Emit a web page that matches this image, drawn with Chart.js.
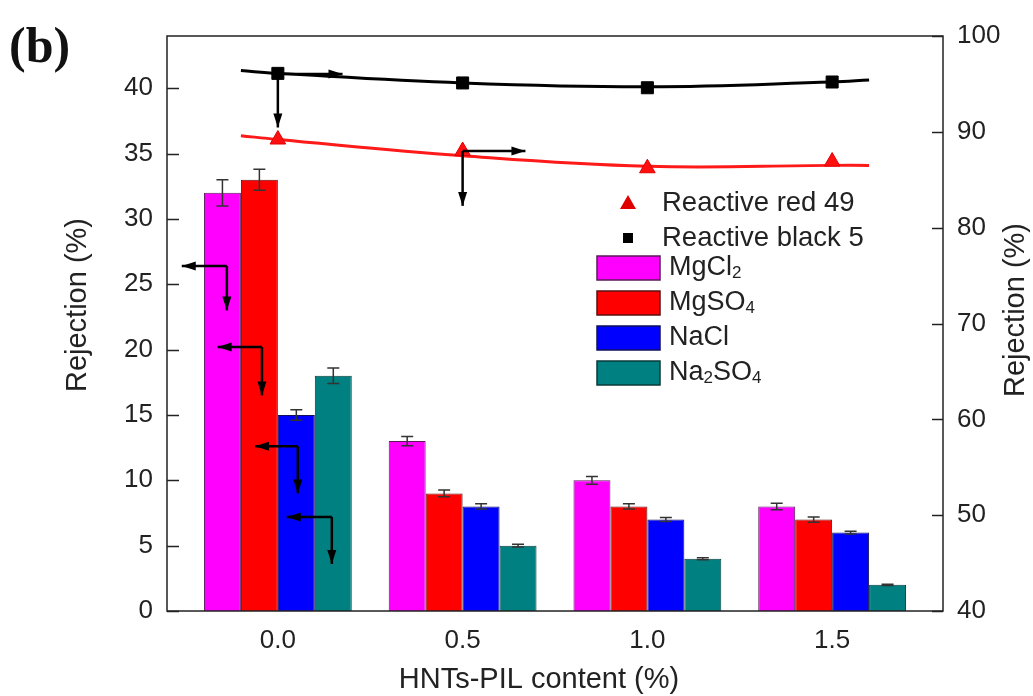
<!DOCTYPE html>
<html>
<head>
<meta charset="utf-8">
<script src="https://cdn.jsdelivr.net/npm/chart.js@4.4.1/dist/chart.umd.min.js"></script>
<style>
  html, body { margin: 0; padding: 0; background: #fff; }
  #wrap { width: 1033px; height: 696px; }
</style>
</head>
<body>
<div id="wrap"><canvas id="rejChart" width="1033" height="696"></canvas></div>
<script>
// HNTs-PIL content (%)
const contents = [0.0, 0.5, 1.0, 1.5];

// salt rejection (%), left axis
const mgcl2 = [32, 13, 10, 8];
const mgso4 = [33, 9, 8, 7];
const nacl = [15, 8, 7, 6];
const na2so4 = [18, 5, 4, 2];

const mgcl2Err = [1.0, 0.35, 0.3, 0.25];
const mgso4Err = [0.8, 0.25, 0.2, 0.2];
const naclErr = [0.4, 0.2, 0.15, 0.1];
const na2so4Err = [0.6, 0.1, 0.08, 0.05];

// dye rejection (%), right axis
const red49 = [89.2, 88.0, 86.2, 86.9];
const black5 = [96.1, 95.1, 94.6, 95.2];

// fitted curves through the dye points
const fitX = [-0.1, 0.0, 0.5, 1.0, 1.5, 1.6];
const red49Fit = [89.6, 89.2, 87.5, 86.4, 86.5, 86.5];
const black5Fit = [96.4, 96.1, 95.1, 94.7, 95.2, 95.4];

const xTicks = [0.0, 0.5, 1.0, 1.5];
const yTicks = [0, 5, 10, 15, 20, 25, 30, 35, 40];
const y1Ticks = [40, 50, 60, 70, 80, 90, 100];

// arrows pointing each series to its axis (x, left-axis units)
const arrows = [
  { from: [0.0, 41.1], to: [0.175, 41.1] },
  { from: [0.0, 41.1], to: [0.0, 37.0] },
  { from: [0.5, 35.2], to: [0.67, 35.2] },
  { from: [0.5, 35.2], to: [0.5, 31.0] },
  { from: [-0.138, 26.4], to: [-0.26, 26.4] },
  { from: [-0.138, 26.4], to: [-0.138, 23.0] },
  { from: [-0.043, 20.2], to: [-0.163, 20.2] },
  { from: [-0.043, 20.2], to: [-0.043, 16.5] },
  { from: [0.054, 12.6], to: [-0.062, 12.6] },
  { from: [0.054, 12.6], to: [0.054, 9.0] },
  { from: [0.146, 7.2], to: [0.024, 7.2] },
  { from: [0.146, 7.2], to: [0.146, 3.6] }
];

const FONT = "'Liberation Sans', Arial, sans-serif";
const pts = (xs, ys) => xs.map((x, i) => ({ x: x, y: ys[i] }));

function barSet(label, vals, errs, color, border) {
  return {
    type: 'bar',
    label: label,
    data: pts(contents, vals),
    errors: errs,
    backgroundColor: color,
    borderColor: border,
    borderWidth: 1,
    barPercentage: 1.0,
    categoryPercentage: 0.8,
    yAxisID: 'y',
    order: 5
  };
}

const data = {
  datasets: [
    {
      type: 'line', label: 'red fit', data: pts(fitX, red49Fit),
      borderColor: '#ff1a1a', borderWidth: 3, pointRadius: 0, tension: 0.4,
      yAxisID: 'y1', order: 2
    },
    {
      type: 'line', label: 'black fit', data: pts(fitX, black5Fit),
      borderColor: '#000', borderWidth: 3, pointRadius: 0, tension: 0.4,
      yAxisID: 'y1', order: 2
    },
    {
      type: 'line', label: 'Reactive red 49', data: pts(contents, red49),
      showLine: false, pointStyle: 'triangle', pointRadius: 9,
      backgroundColor: '#ff1010', borderColor: '#e00000', borderWidth: 1,
      yAxisID: 'y1', order: 1
    },
    {
      type: 'line', label: 'Reactive black 5', data: pts(contents, black5),
      showLine: false, pointStyle: 'rect', pointRadius: 8.5,
      backgroundColor: '#000', borderColor: '#000', borderWidth: 1,
      yAxisID: 'y1', order: 1
    },
    barSet('MgCl₂', mgcl2, mgcl2Err, '#ff00ff', '#5a1a5a'),
    barSet('MgSO₄', mgso4, mgso4Err, '#ff0000', '#5a1010'),
    barSet('NaCl', nacl, naclErr, '#0000ff', '#10105a'),
    barSet('Na₂SO₄', na2so4, na2so4Err, '#008080', '#0a3a3a')
  ]
};

// draw text where unicode subscript digits become small lowered digits
function drawRich(ctx, text, x, y, size) {
  const subs = '₀₁₂₃₄₅₆₇₈₉';
  ctx.textBaseline = 'middle';
  ctx.textAlign = 'left';
  for (const ch of text) {
    const k = subs.indexOf(ch);
    if (k >= 0) {
      ctx.font = Math.round(size * 0.62) + 'px ' + FONT;
      ctx.fillText(String(k), x, y + size * 0.2);
      x += ctx.measureText(String(k)).width;
    } else {
      ctx.font = size + 'px ' + FONT;
      ctx.fillText(ch, x, y);
      x += ctx.measureText(ch).width;
    }
  }
}

function arrowHead(ctx, x0, y0, x1, y1) {
  const ang = Math.atan2(y1 - y0, x1 - x0);
  const len = 14, half = 4.5;
  ctx.beginPath();
  ctx.moveTo(x1, y1);
  ctx.lineTo(x1 - len * Math.cos(ang) + half * Math.sin(ang), y1 - len * Math.sin(ang) - half * Math.cos(ang));
  ctx.lineTo(x1 - len * Math.cos(ang) - half * Math.sin(ang), y1 - len * Math.sin(ang) + half * Math.cos(ang));
  ctx.closePath();
  ctx.fill();
}

function rotatedTitle(ctx, text, x, y) {
  ctx.save();
  ctx.translate(x, y);
  ctx.rotate(-Math.PI / 2);
  ctx.font = '29px ' + FONT;
  ctx.fillStyle = '#222';
  ctx.textAlign = 'center';
  ctx.textBaseline = 'middle';
  ctx.fillText(text, 0, 0);
  ctx.restore();
}

const decorations = {
  id: 'decorations',
  afterDatasetsDraw(chart) {
    const ctx = chart.ctx;
    const ys = chart.scales.y;
    // error bars
    ctx.save();
    ctx.strokeStyle = '#333';
    ctx.lineWidth = 1.5;
    chart.data.datasets.forEach((ds, i) => {
      if (!ds.errors) return;
      chart.getDatasetMeta(i).data.forEach((el, j) => {
        const v = ds.data[j].y, e = ds.errors[j];
        const top = ys.getPixelForValue(v + e), bot = ys.getPixelForValue(v - e);
        ctx.beginPath();
        ctx.moveTo(el.x, top); ctx.lineTo(el.x, bot);
        ctx.moveTo(el.x - 6, top); ctx.lineTo(el.x + 6, top);
        ctx.moveTo(el.x - 6, bot); ctx.lineTo(el.x + 6, bot);
        ctx.stroke();
      });
    });
    ctx.restore();
  },
  afterDraw(chart) {
    const ctx = chart.ctx;
    const a = chart.chartArea;
    const xs = chart.scales.x, ys = chart.scales.y, y1 = chart.scales.y1;

    ctx.save();
    // arrows
    ctx.strokeStyle = '#000';
    ctx.fillStyle = '#000';
    ctx.lineWidth = 2.5;
    arrows.forEach(ar => {
      const x0 = xs.getPixelForValue(ar.from[0]), yy0 = ys.getPixelForValue(ar.from[1]);
      const x1 = xs.getPixelForValue(ar.to[0]), yy1 = ys.getPixelForValue(ar.to[1]);
      ctx.beginPath();
      ctx.moveTo(x0, yy0); ctx.lineTo(x1, yy1);
      ctx.stroke();
      arrowHead(ctx, x0, yy0, x1, yy1);
    });

    // frame
    ctx.lineWidth = 1.5;
    ctx.strokeStyle = '#222';
    ctx.strokeRect(a.left, a.top, a.right - a.left, a.bottom - a.top);

    // inward ticks
    ctx.beginPath();
    yTicks.forEach(v => {
      const p = Math.round(ys.getPixelForValue(v)) + 0.5;
      ctx.moveTo(a.left, p); ctx.lineTo(a.left + 12, p);
    });
    y1Ticks.forEach(v => {
      const p = Math.round(y1.getPixelForValue(v)) + 0.5;
      ctx.moveTo(a.right, p); ctx.lineTo(a.right - 11, p);
    });
    ctx.stroke();

    // legend
    const lx = 597, sym = 628;
    const rows = [203, 238, 268, 303, 338, 373];
    ctx.fillStyle = '#e00000';
    ctx.beginPath();
    ctx.moveTo(sym, rows[0] - 8); ctx.lineTo(sym + 8, rows[0] + 6); ctx.lineTo(sym - 8, rows[0] + 6);
    ctx.closePath(); ctx.fill();
    ctx.fillStyle = '#000';
    ctx.fillRect(sym - 5, rows[1] - 5, 10, 10);
    ctx.fillStyle = '#222';
    drawRich(ctx, chart.data.datasets[2].label, 662, rows[0], 27.5);
    drawRich(ctx, chart.data.datasets[3].label, 662, rows[1], 27.5);
    for (let k = 0; k < 4; k++) {
      const ds = chart.data.datasets[4 + k];
      const yc = rows[2 + k];
      ctx.fillStyle = ds.backgroundColor;
      ctx.fillRect(lx, yc - 12, 63, 24);
      ctx.lineWidth = 1.5;
      ctx.strokeStyle = ds.borderColor;
      ctx.strokeRect(lx, yc - 12, 63, 24);
      ctx.fillStyle = '#222';
      drawRich(ctx, ds.label, 669, yc, 27);
    }

    // axis titles
    rotatedTitle(ctx, 'Rejection (%)', 78, 305);
    rotatedTitle(ctx, 'Rejection (%)', 1016, 310);
    ctx.font = '29px ' + FONT;
    ctx.fillStyle = '#222';
    ctx.textAlign = 'center';
    ctx.textBaseline = 'middle';
    ctx.fillText('HNTs-PIL content (%)', 539, 680);

    // panel letter
    ctx.font = "bold 50px 'Liberation Serif', 'Times New Roman', serif";
    ctx.fillStyle = '#111';
    ctx.textAlign = 'left';
    ctx.textBaseline = 'alphabetic';
    ctx.fillText('(b)', 9, 62);
    ctx.restore();
  }
};

const options = {
  responsive: false,
  animation: false,
  layout: { padding: { top: 36, left: 0, right: 0, bottom: 0 } },
  plugins: {
    legend: { display: false },
    tooltip: { enabled: false }
  },
  scales: {
    x: {
      type: 'linear',
      offset: false,
      min: -0.3,
      max: 1.8,
      afterBuildTicks: s => { s.ticks = xTicks.map(v => ({ value: v })); },
      afterFit: s => { s.height = 85; },
      grid: { display: false },
      border: { display: false },
      ticks: {
        padding: 6,
        color: '#222',
        font: { family: FONT, size: 26 },
        callback: v => Number(v).toFixed(1)
      }
    },
    y: {
      position: 'left',
      min: 0,
      max: 44,
      afterBuildTicks: s => { s.ticks = yTicks.map(v => ({ value: v })); },
      afterFit: s => { s.width = 167; },
      grid: { display: false },
      border: { display: false },
      ticks: { padding: 6, color: '#222', font: { family: FONT, size: 26 } }
    },
    y1: {
      position: 'right',
      min: 40,
      max: 100,
      afterBuildTicks: s => { s.ticks = y1Ticks.map(v => ({ value: v })); },
      afterFit: s => { s.width = 90; },
      grid: { display: false },
      border: { display: false },
      ticks: { padding: 6, color: '#222', font: { family: FONT, size: 26 } }
    }
  }
};

const ctx = document.getElementById('rejChart').getContext('2d');
const rejChart = new Chart(ctx, {
  type: 'bar',
  data: data,
  options: options,
  plugins: [decorations]
});
</script>
</body>
</html>
